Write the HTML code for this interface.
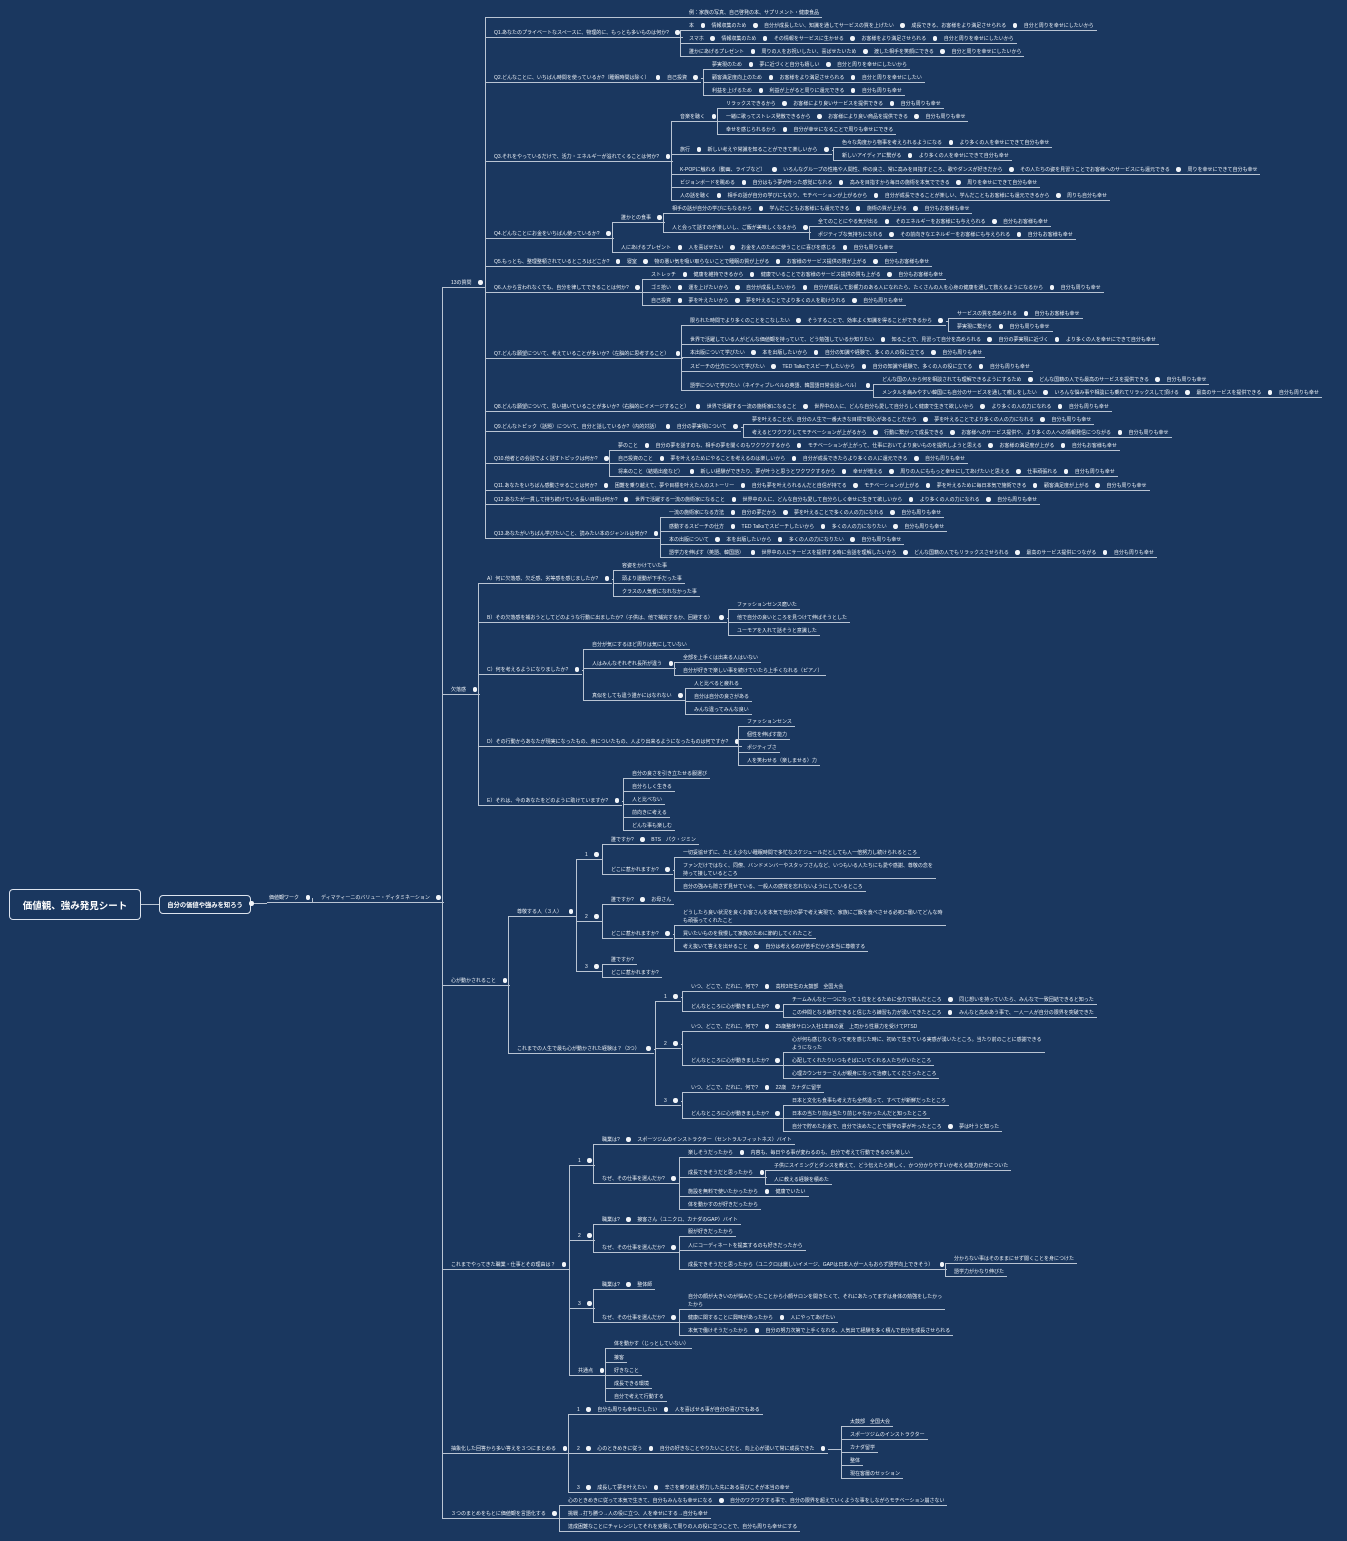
<!DOCTYPE html>
<html><head><meta charset="utf-8">
<style>
html,body{margin:0;padding:0;}
body{width:1347px;height:1541px;background:#1a375f;position:relative;overflow:hidden;font-family:"Liberation Sans","Noto Sans CJK JP",sans-serif;color:#eef2f7;}
.r{position:absolute;white-space:pre;font-size:5px;line-height:8px;height:auto;padding:0 3px 0 2px;border-bottom:1px solid #b9c4d3;}
.d{display:inline-block;width:4.5px;height:4.5px;border-radius:50%;background:#f2f5f9;margin:0 6.5px;vertical-align:-0.5px;}
.ln{position:absolute;background:#b9c4d3;}
.box{position:absolute;border:1.5px solid #dde4ee;border-radius:4px;color:#fff;font-weight:bold;display:flex;align-items:center;justify-content:center;box-sizing:border-box;}
</style></head><body>
<div class="box" style="left:9px;top:889px;width:132px;height:31px;font-size:9.5px;">価値観、強み発見シート</div>
<div class="box" style="left:159px;top:895px;width:92px;height:19px;font-size:6.3px;">自分の価値や強みを知ろう</div>
<div class="ln" style="left:141px;top:904px;width:18px;height:1px"></div>
<div class="ln" style="left:251px;top:903px;width:16px;height:1px"></div>
<div class="d" style="position:absolute;left:249px;top:901px;margin:0"></div>
<script>
const T=[267,897,"価値観ワーク",[[319,897,"ディマティーニのバリュー・ディタミネーション",[
 [449,282,"13の質問",[
  [687,12,"例：家族の写真、自己啓発の本、サプリメント・健康食品"],
  [492,32,"Q1.あなたのプライベートなスペースに、物理的に、もっとも多いものは何か?",[
   [687,25,"本|情報収集のため|自分が成長したい、知識を通してサービスの質を上げたい|成長できる、お客様をより満足させられる|自分と周りを幸せにしたいから"],
   [687,38,"スマホ|情報収集のため|その情報をサービスに生かせる|お客様をより満足させられる|自分と周りを幸せにしたいから"],
   [687,51,"誰かにあげるプレゼント|周りの人をお祝いしたい、喜ばせたいため|渡した相手を笑顔にできる|自分と周りを幸せにしたいから"]]],
  [492,77,"Q2.どんなことに、いちばん時間を使っているか?（睡眠時間は除く）|自己投資",[
   [710,64,"夢実現のため|夢に近づくと自分も嬉しい|自分と周りを幸せにしたいから"],
   [710,77,"顧客満足度向上のため|お客様をより満足させられる|自分と周りを幸せにしたい"],
   [710,90,"利益を上げるため|利益が上がると周りに還元できる|自分も周りも幸せ"]]],
  [492,156,"Q3.それをやっているだけで、活力・エネルギーが溢れてくることは何か?",[
   [678,116,"音楽を聴く",[
    [724,103,"リラックスできるから|お客様により良いサービスを提供できる|自分も周りも幸せ"],
    [724,116,"一緒に歌ってストレス発散できるから|お客様により良い商品を提供できる|自分も周りも幸せ"],
    [724,129,"幸せを感じられるから|自分が幸せになることで周りも幸せにできる"]]],
   [678,149,"旅行|新しい考えや常識を知ることができて楽しいから",[
    [840,142,"色々な角度から物事を考えられるようになる|より多くの人を幸せにできて自分も幸せ"],
    [840,155,"新しいアイディアに繋がる|より多くの人を幸せにできて自分も幸せ"]]],
   [678,169,"K-POPに触れる（動画、ライブなど）|いろんなグループの性格や人間性、仲の良さ、常に高みを目指すところ、歌やダンスが好きだから|その人たちの姿を見習うことでお客様へのサービスにも還元できる|周りを幸せにできて自分も幸せ"],
   [678,182,"ビジョンボードを眺める|自分はもう夢が叶った感覚になれる|高みを目指すから毎日の施術を本気でできる|周りを幸せにできて自分も幸せ"],
   [678,195,"人の話を聴く|相手の話が自分の学びにもなり、モチベーションが上がるから|自分が成長できることが楽しい、学んだこともお客様にも還元できるから|周りも自分も幸せ"]]],
  [492,233,"Q4.どんなことにお金をいちばん使っているか?",[
   [619,217,"誰かとの食事",[
    [670,208,"相手の話が自分の学びにもなるから|学んだこともお客様にも還元できる|施術の質が上がる|自分もお客様も幸せ"],
    [670,227,"人と会って話すのが楽しいし、ご飯が美味しくなるから",[
     [816,221,"全てのことにやる気が出る|そのエネルギーをお客様にも与えられる|自分もお客様も幸せ"],
     [816,234,"ポジティブな気持ちになれる|その前向きなエネルギーをお客様にも与えられる|自分もお客様も幸せ"]]]]],
   [619,247,"人にあげるプレゼント|人を喜ばせたい|お金を人のために使うことに喜びを感じる|自分も周りも幸せ"]]],
  [492,261,"Q5.もっとも、整理整頓されているところはどこか?|寝室|物の悪い気を吸い取らないことで睡眠の質が上がる|お客様のサービス提供の質が上がる|自分もお客様も幸せ"],
  [492,287,"Q6.人から言われなくても、自分を律してできることは何か?",[
   [649,274,"ストレッチ|健康を維持できるから|健康でいることでお客様のサービス提供の質も上がる|自分もお客様も幸せ"],
   [649,287,"ゴミ拾い|運を上げたいから|自分が成長したいから|自分が成長して影響力のある人になれたら、たくさんの人を心身の健康を通して救えるようになるから|自分も周りも幸せ"],
   [649,300,"自己投資|夢を叶えたいから|夢を叶えることでより多くの人を助けられる|自分も周りも幸せ"]]],
  [492,353,"Q7.どんな願望について、考えていることが多いか?（左脳的に思考すること）",[
   [688,320,"限られた時間でより多くのことをこなしたい|そうすることで、効率よく知識を得ることができるから",[
    [955,313,"サービスの質を高められる|自分もお客様も幸せ"],
    [955,326,"夢実現に繋がる|自分も周りも幸せ"]]],
   [688,339,"世界で活躍している人がどんな価値観を持っていて、どう勉強しているか知りたい|知ることで、見習って自分を高められる|自分の夢実現に近づく|より多くの人を幸せにできて自分も幸せ"],
   [688,352,"本出版について学びたい|本を出版したいから|自分の知識や経験で、多くの人の役に立てる|自分も周りも幸せ"],
   [688,366,"スピーチの仕方について学びたい|TED Talksでスピーチしたいから|自分の知識や経験で、多くの人の役に立てる|自分も周りも幸せ"],
   [688,385,"語学について学びたい（ネイティブレベルの英語、韓国語日常会話レベル）",[
    [880,379,"どんな国の人から何を相談されても理解できるようにするため|どんな国籍の人でも最高のサービスを提供できる|自分も周りも幸せ"],
    [880,392,"メンタルを病みやすい韓国にも自分のサービスを通して癒しをしたい|いろんな悩み事や相談にも乗れてリラックスして頂ける|最高のサービスを提供できる|自分も周りも幸せ"]]]]],
  [492,406,"Q8.どんな願望について、思い描いていることが多いか?（右脳的にイメージすること）|世界で活躍する一流の施術家になること|世界中の人に、どんな自分も愛して自分らしく健康で生きて欲しいから|より多くの人の力になれる|自分も周りも幸せ"],
  [492,426,"Q9.どんなトピック（話題）について、自分と話しているか?（内的対話）|自分の夢実現について",[
   [750,419,"夢を叶えることが、自分の人生で一番大きな目標で関心があることだから|夢を叶えることでより多くの人の力になれる|自分も周りも幸せ"],
   [750,432,"考えるとワクワクしてモチベーションが上がるから|行動に繋がって成長できる|お客様へのサービス提供や、より多くの人への情報発信につながる|自分も周りも幸せ"]]],
  [492,458,"Q10.他者との会話でよく話すトピックは何か?",[
   [616,445,"夢のこと|自分の夢を話すのも、相手の夢を聞くのもワクワクするから|モチベーションが上がって、仕事においてより良いものを提供しようと思える|お客様の満足度が上がる|自分もお客様も幸せ"],
   [616,458,"自己投資のこと|夢を叶えるためにやることを考えるのは楽しいから|自分が成長できたらより多くの人に還元できる|自分も周りも幸せ"],
   [616,471,"将来のこと（結婚出産など）|新しい経験ができたり、夢が叶うと思うとワクワクするから|幸せが増える|周りの人にももっと幸せにしてあげたいと思える|仕事頑張れる|自分も周りも幸せ"]]],
  [492,485,"Q11.あなたをいちばん感動させることは何か?|困難を乗り越えて、夢や目標を叶えた人のストーリー|自分も夢を叶えられるんだと自信が持てる|モチベーションが上がる|夢を叶えるために毎日本気で施術できる|顧客満足度が上がる|自分も周りも幸せ"],
  [492,499,"Q12.あなたが一貫して持ち続けている長い目標は何か?|世界で活躍する一流の施術家になること|世界中の人に、どんな自分も愛して自分らしく幸せに生きて欲しいから|より多くの人の力になれる|自分も周りも幸せ"],
  [492,533,"Q13.あなたがいちばん学びたいこと、読みたい本のジャンルは何か?",[
   [667,512,"一流の施術家になる方法|自分の夢だから|夢を叶えることで多くの人の力になれる|自分も周りも幸せ"],
   [667,526,"感動するスピーチの仕方|TED Talksでスピーチしたいから|多くの人の力になりたい|自分も周りも幸せ"],
   [667,539,"本の出版について|本を出版したいから|多くの人の力になりたい|自分も周りも幸せ"],
   [667,552,"語学力を伸ばす（英語、韓国語）|世界中の人にサービスを提供する時に会話を理解したいから|どんな国籍の人でもリラックスさせられる|最高のサービス提供につながる|自分も周りも幸せ"]]]]],
 [449,689,"欠落感",[
  [485,578,"A）何に欠落感、欠乏感、劣等感を感じましたか?",[
   [620,565,"容姿をかけていた事"],[620,578,"頭より運動が下手だった事"],[620,591,"クラスの人気者になれなかった事"]]],
  [485,617,"B）その欠落感を補おうとしてどのような行動に出ましたか?（子供は、他で補完するか、回避する）",[
   [735,604,"ファッションセンス磨いた"],[735,617,"他で自分の良いところを見つけて伸ばそうとした"],[735,630,"ユーモアを入れて話そうと意識した"]]],
  [485,669,"C）何を考えるようになりましたか?",[
   [590,644,"自分が気にするほど周りは気にしていない"],
   [590,663,"人はみんなそれぞれ長所が違う",[[681,657,"全部を上手くは出来る人はいない"],[681,670,"自分が好きで楽しい事を続けていたら上手くなれる（ピアノ）"]]],
   [590,695,"真似をしても違う誰かにはなれない",[[692,683,"人と比べると疲れる"],[692,696,"自分は自分の良さがある"],[692,709,"みんな違ってみんな良い"]]]]],
  [485,741,"D）その行動からあなたが現実になったもの、身についたもの、人より出来るようになったものは何ですか?",[
   [745,721,"ファッションセンス"],[745,734,"個性を伸ばす能力"],[745,747,"ポジティブさ"],[745,760,"人を笑わせる（楽しませる）力"]]],
  [485,800,"E）それは、今のあなたをどのように助けていますか?",[
   [630,773,"自分の良さを引き立たせる服選び"],[630,786,"自分らしく生きる"],[630,799,"人と比べない"],[630,812,"前向きに考える"],[630,825,"どんな事も楽しむ"]]]]],
 [449,980,"心が動かされること",[
  [515,911,"尊敬する人（３人）",[
   [583,854,"1",[
    [609,839,"誰ですか?|BTS　パク・ジミン"],
    [609,869,"どこに惹かれますか?",[
     [681,852,"一切妥協せずに、たとえ少ない睡眠時間で多忙なスケジュールだとしても人一倍努力し続けられるところ"],
     [681,865,"ファンだけではなく、同僚、バンドメンバーやスタッフさんなど、いつもいる人たちにも愛や感謝、尊敬の念を\n持って接しているところ"],
     [681,886,"自分の強みも隠さず見せている、一般人の感覚を忘れないようにしているところ"]]]]],
   [583,916,"2",[
    [609,899,"誰ですか?|お母さん"],
    [609,933,"どこに惹かれますか?",[
     [681,912,"どうしたら良い状況を良くお客さんを本気で自分の夢で考え実現で、家族にご飯を食べさせる必死に働いてどんな時\nも頑張ってくれたこと"],
     [681,933,"買いたいものを我慢して家族のために節約してくれたこと"],
     [681,946,"考え抜いて答えを出せること|自分は考えるのが苦手だから本当に尊敬する"]]]]],
   [583,966,"3",[[609,959,"誰ですか?"],[609,972,"どこに惹かれますか?"]]]]],
  [515,1048,"これまでの人生で最も心が動かされた経験は？（3つ）",[
   [662,996,"1",[
    [689,986,"いつ、どこで、だれに、何で?|高校3年生の太鼓部　全国大会"],
    [689,1006,"どんなところに心が動きましたか?",[
     [790,999,"チームみんなと一つになって１位をとるために全力で挑んだところ|同じ想いを持っていたら、みんなで一致団結できると知った"],
     [790,1012,"この仲間となら絶対できると信じたら練習も力が湧いてきたところ|みんなと高めあう事で、一人一人が自分の限界を突破できた"]]]]],
   [662,1043,"2",[
    [689,1026,"いつ、どこで、だれに、何で?|25歳整体サロン入社1年目の夏　上司から性暴力を受けてPTSD"],
    [689,1060,"どんなところに心が動きましたか?",[
     [790,1039,"心が何も感じなくなって死を感じた時に、初めて生きている実感が湧いたところ。当たり前のことに感謝できる\nようになった"],
     [790,1060,"心配してくれたりいつもそばにいてくれる人たちがいたところ"],
     [790,1073,"心理カウンセラーさんが親身になって治療してくださったところ"]]]]],
   [662,1100,"3",[
    [689,1087,"いつ、どこで、だれに、何で?|22歳　カナダに留学"],
    [689,1113,"どんなところに心が動きましたか?",[
     [790,1100,"日本と文化も食事も考え方も全然違って、すべてが新鮮だったところ"],
     [790,1113,"日本の当たり前は当たり前じゃなかったんだと知ったところ"],
     [790,1126,"自分で貯めたお金で、自分で決めたことで留学の夢が叶ったところ|夢は叶うと知った"]]]]]]]]],
 [449,1264,"これまでやってきた職業・仕事とその理由は？",[
  [576,1160,"1",[
   [600,1139,"職業は?|スポーツジムのインストラクター（セントラルフィットネス）バイト"],
   [600,1178,"なぜ、その仕事を選んだか?",[
    [686,1152,"楽しそうだったから|内容も、毎日やる事が変わるのも、自分で考えて行動できるのも楽しい"],
    [686,1172,"成長できそうだと思ったから",[
     [772,1165,"子供にスイミングとダンスを教えて、どう伝えたら楽しく、かつ分かりやすいか考える能力が身についた"],
     [772,1179,"人に教える経験を積めた"]]],
    [686,1191,"施設を無料で使いたかったから|健康でいたい"],
    [686,1204,"体を動かすのが好きだったから"]]]]],
  [576,1235,"2",[
   [600,1219,"職業は?|接客さん（ユニクロ、カナダのGAP）バイト"],
   [600,1247,"なぜ、その仕事を選んだか?",[
    [686,1231,"服が好きだったから"],
    [686,1245,"人にコーディネートを提案するのも好きだったから"],
    [686,1264,"成長できそうだと思ったから（ユニクロは厳しいイメージ、GAPは日本人が一人もおらず語学向上できそう）",[
     [952,1258,"分からない事はそのままにせず聞くことを身につけた"],
     [952,1271,"語学力がかなり伸びた"]]]]]]],
  [576,1303,"3",[
   [600,1284,"職業は?|整体師"],
   [600,1317,"なぜ、その仕事を選んだか?",[
    [686,1296,"自分の顔が大きいのが悩みだったことから小顔サロンを開きたくて、それにあたってまずは身体の勉強をしたかっ\nたから"],
    [686,1317,"健康に関することに興味があったから|人にやってあげたい"],
    [686,1330,"本気で働けそうだったから|自分の努力次第で上手くなれる、人気出て経験を多く積んで自分を成長させられる"]]]]],
  [576,1370,"共通点",[
   [612,1343,"体を動かす（じっとしていない）"],[612,1357,"接客"],[612,1370,"好きなこと"],[612,1383,"成長できる環境"],[612,1396,"自分で考えて行動する"]]]]],
 [449,1448,"抽象化した回答から多い答えを３つにまとめる",[
  [575,1409,"1|自分も周りも幸せにしたい|人を喜ばせる事が自分の喜びでもある"],
  [575,1448,"2|心のときめきに従う|自分の好きなことやりたいことだと、向上心が湧いて常に成長できた",[
   [848,1421,"太鼓部　全国大会"],[848,1434,"スポーツジムのインストラクター"],[848,1447,"カナダ留学"],[848,1460,"整体"],[848,1473,"現在客層のセッション"]]],
  [575,1487,"3|成長して夢を叶えたい|辛さを乗り越え努力した先にある喜びこそが本当の幸せ"]]],
 [449,1513,"３つのまとめをもとに価値観を言語化する",[
  [566,1500,"心のときめきに従って本気で生きて、自分もみんなも幸せになる|自分のワクワクする事で、自分の限界を超えていくような事をしながらモチベーション崩さない"],
  [566,1513,"挑戦→打ち勝つ→人の役に立つ、人を幸せにする→自分も幸せ"],
  [566,1526,"達成困難なことにチャレンジしてそれを克服して周りの人の役に立つことで、自分も周りも幸せにする"]]]
]]]];
const B=document.body;
function line(x,y,w,h){const d=document.createElement('div');d.className='ln';d.style.cssText=`left:${x}px;top:${y}px;width:${w}px;height:${h}px`;B.appendChild(d);}
function mk(n){
  const [x,y,t,k]=n;const el=document.createElement('div');el.className='r';
  const lines=t.split('\n');
  el.style.left=x+'px';el.style.top=(y-3)+'px';
  el.innerHTML=t.split('|').map(s=>s.replace(/&/g,'&amp;').replace(/</g,'&lt;')).join('<span class="d"></span>')+(k?'<span class="d" style="margin-right:0"></span>':'');
  B.appendChild(el);n.el=el;n.ul=y-3+lines.length*8;
  if(k)k.forEach(mk);
}
mk(T);
function conn(n){
  const [x,y,t,k]=n;if(!k)return;
  const end=n.el.offsetLeft+n.el.offsetWidth;
  let mx=Math.min(...k.map(c=>c[0]));const bx=mx-7;
  const ys=k.map(c=>c.ul);
  const cy=y+1;
  if(bx>end)line(end,cy,bx-end,1);
  const y1=Math.min(cy,...ys),y2=Math.max(cy,...ys);
  if(y2>y1)line(bx,y1,1,y2-y1+1);
  k.forEach(c=>{line(bx,c.ul,c[0]-bx,1);conn(c);});
}
conn(T);
</script>
</body></html>
